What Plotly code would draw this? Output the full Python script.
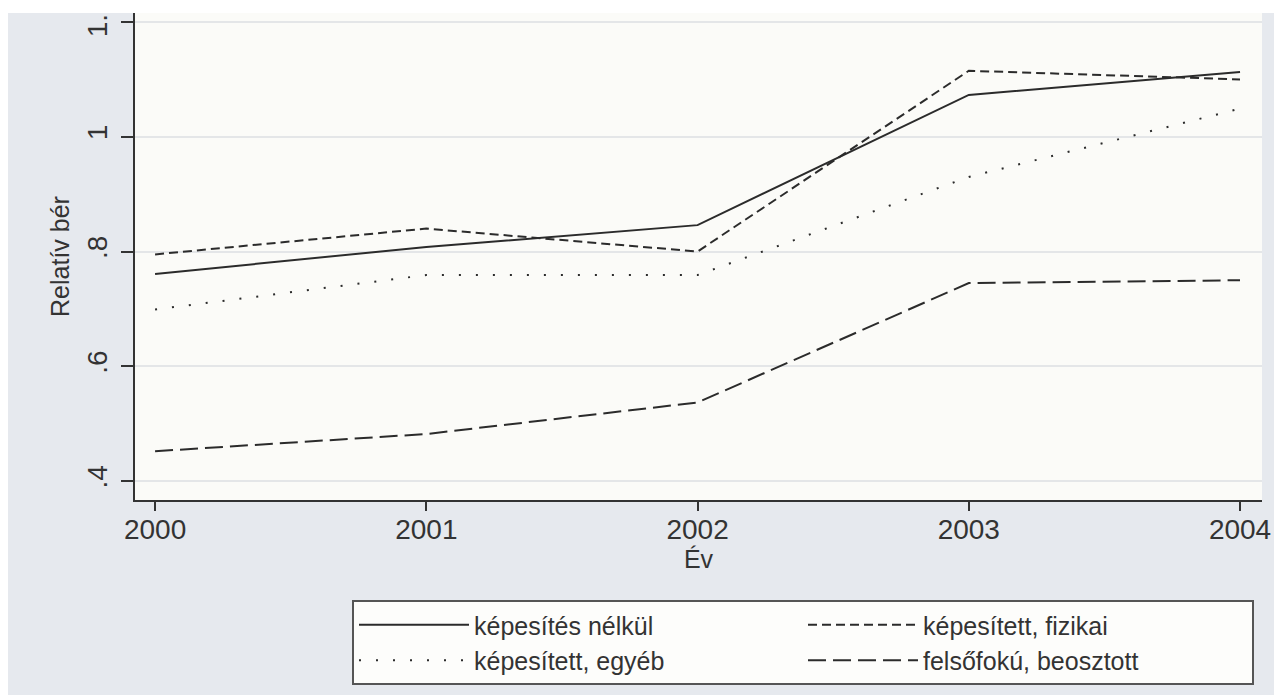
import plotly.graph_objects as go

years = [2000, 2001, 2002, 2003, 2004]
nelkul = [0.761, 0.808, 0.846, 1.073, 1.113]
fizikai = [0.795, 0.840, 0.800, 1.115, 1.100]
egyeb = [0.699, 0.759, 0.759, 0.930, 1.049]
felso = [0.452, 0.482, 0.537, 0.745, 0.750]

series_names = ["képesítés nélkül", "képesített, fizikai", "képesített, egyéb", "felsőfokú, beosztott"]
y_tickvals = [0.4, 0.6, 0.8, 1.0, 1.2]
y_ticktext = [".4", ".6", ".8", "1", "1.2"]
x_tickvals = [2000, 2001, 2002, 2003, 2004]
x_ticktext = ["2000", "2001", "2002", "2003", "2004"]

LINE = "#2b2b2b"
FONT = "Liberation Sans, Arial, sans-serif"

fig = go.Figure()
dashes = ["solid", "9px,5px", "2px,15px", "18px,7px"]
for name, vals, d in zip(series_names, [nelkul, fizikai, egyeb, felso], dashes):
    fig.add_trace(go.Scatter(
        x=years, y=vals, mode="lines", name=name,
        line=dict(color=LINE, width=2, dash=d),
    ))

# figure coordinates (page is offset by the 8px body margin)
W, H = 1282, 695
L, R, T, B = 127, 28, 5, 203
pw, ph = W - L - R, H - T - B

def px(xp):
    return (xp - L) / pw

def py(yp):
    return (H - B - yp) / ph

fig.update_layout(
    width=W, height=H,
    margin=dict(l=L, r=R, t=T, b=B, autoexpand=False),
    paper_bgcolor="#e6e9ee",
    plot_bgcolor="#fbfbf8",
    font=dict(family=FONT, color="#333333"),
    showlegend=True,
    legend=dict(
        orientation="h",
        x=px(344), xanchor="left",
        y=py(592), yanchor="top",
        bgcolor="#fdfdfb",
        bordercolor="#555555",
        borderwidth=2,
        font=dict(size=25, family=FONT, color="#333333"),
        entrywidth=324,
        entrywidthmode="pixels",
        itemwidth=110,
        traceorder="normal",
    ),
    xaxis=dict(
        range=[1999.926, 2004.081],
        tickvals=x_tickvals, ticktext=x_ticktext,
        ticks="outside", ticklen=9, tickwidth=1.5, tickcolor="#333333",
        showline=True, linecolor="#333333", linewidth=2,
        showgrid=False, zeroline=False,
        tickfont=dict(size=28, family=FONT, color="#333333"),
        ticklabelstandoff=-6,
        title=dict(text="Év", font=dict(size=25, family=FONT, color="#333333"), standoff=4),
        automargin=False,
    ),
    yaxis=dict(
        range=[0.367, 1.2157],
        tickvals=y_tickvals, ticktext=y_ticktext,
        tickangle=-90,
        ticks="outside", ticklen=12, tickwidth=1.5, tickcolor="#333333",
        showline=True, linecolor="#333333", linewidth=2,
        showgrid=True, gridcolor="#e4e6e8", gridwidth=2,
        zeroline=False,
        tickfont=dict(size=28, family=FONT, color="#333333"),
        ticklabelstandoff=3,
        ticklabeloverflow="allow",
        title=dict(text="Relatív bér", font=dict(size=25, family=FONT, color="#333333"), standoff=5),
        automargin=False,
    ),
    shapes=[
        dict(type="rect", xref="paper", yref="paper", layer="above",
             x0=px(-5), x1=px(W + 5), y0=py(5), y1=py(-5),
             fillcolor="#ffffff", line=dict(width=0)),
    ],
)

fig.write_html("out.html")
